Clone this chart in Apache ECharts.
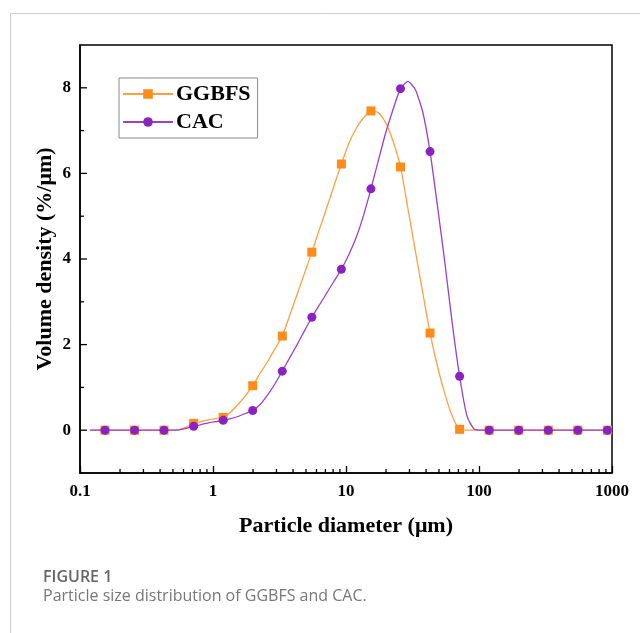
<!DOCTYPE html>
<html>
<head>
<meta charset="utf-8">
<style>
  html, body { margin: 0; padding: 0; background: #fff; }
  #chart { width: 640px; height: 633px; }
</style>
<script src="https://cdn.jsdelivr.net/npm/echarts@6/dist/echarts.min.js"></script>
</head>
<body>
<div id="chart"></div>
<script>
// Particle diameters (µm) of the size classes, logarithmically spaced
const sizes = [
  0.119, 0.135, 0.154, 0.175, 0.199, 0.226, 0.257, 0.292, 0.332, 0.377,
  0.428, 0.487, 0.553, 0.629, 0.715, 0.812, 0.923, 1.049, 1.192, 1.355,
  1.540, 1.750, 1.989, 2.261, 2.569, 2.920, 3.318, 3.771, 4.285, 4.870,
  5.535, 6.290, 7.148, 8.124, 9.233, 10.49, 11.92, 13.55, 15.40, 17.50,
  19.89, 22.61, 25.69, 29.20, 33.18, 37.71, 42.85, 48.70, 55.35, 62.90,
  71.48, 81.24, 92.33, 104.9, 119.2, 135.5, 154.0, 175.0, 198.9, 226.1,
  256.9, 292.0, 331.8, 377.1, 428.5, 487.0, 553.5, 629.0, 714.8, 812.4,
  923.3
];

// Volume density (%/µm) per size class
const ggbfs = [
  0, 0, 0, 0, 0, 0, 0, 0, 0, 0,
  0, 0, 0.01, 0.07, 0.16, 0.20, 0.24, 0.27, 0.30, 0.42,
  0.60, 0.80, 1.04, 1.33, 1.60, 1.90, 2.20, 2.68, 3.17, 3.66,
  4.16, 4.68, 5.19, 5.71, 6.22, 6.70, 7.05, 7.30, 7.46, 7.42,
  7.18, 6.75, 6.15, 5.18, 4.20, 3.22, 2.27, 1.50, 0.85, 0.33,
  0.02, 0, 0, 0, 0, 0, 0, 0, 0, 0,
  0, 0, 0, 0, 0, 0, 0, 0, 0, 0,
  0
];
const cac = [
  0, 0, 0, 0, 0, 0, 0, 0, 0, 0,
  0, 0, 0.01, 0.04, 0.09, 0.13, 0.17, 0.20, 0.23, 0.27,
  0.32, 0.39, 0.46, 0.60, 0.82, 1.08, 1.38, 1.69, 2.00, 2.32,
  2.64, 2.92, 3.20, 3.48, 3.76, 4.10, 4.50, 5.02, 5.64, 6.30,
  6.95, 7.50, 7.98, 8.15, 7.96, 7.44, 6.51, 5.24, 3.92, 2.50,
  1.26, 0.33, 0.02, 0, 0, 0, 0, 0, 0, 0,
  0, 0, 0, 0, 0, 0, 0, 0, 0, 0,
  0
];

// Size classes that carry a symbol on the curves
const markerSizes = [0.154, 0.257, 0.428, 0.715, 1.192, 1.989, 3.318, 5.535, 9.233,
  15.40, 25.69, 42.85, 71.48, 119.2, 198.9, 331.8, 553.5, 923.3];

// Axis ticks and labels
const xTickLabels = ['0.1', '1', '10', '100', '1000'];
const xMinorTicks = [0.2, 0.3, 0.4, 0.5, 0.6, 0.7, 0.8, 0.9,
  2, 3, 4, 5, 6, 7, 8, 9, 20, 30, 40, 50, 60, 70, 80, 90,
  200, 300, 400, 500, 600, 700, 800, 900];
const yTickLabels = ['0', '2', '4', '6', '8'];
const yMajorTicks = [0, 2, 4, 6, 8];
const yMinorTicks = [1, 3, 5, 7];

const serif = "'Liberation Serif', 'Times New Roman', serif";
const ORANGE = '#FF8C1A';
const PURPLE = '#8A22C2';

function curve(values) {
  return sizes.map((d, i) => {
    const item = { value: [d, values[i]] };
    if (markerSizes.indexOf(d) < 0) item.symbol = 'none';
    return item;
  });
}

// Short inward tick strokes drawn through the axis scales
function tickSeries(data, horizontal, len) {
  return {
    type: 'custom',
    silent: true,
    clip: false,
    z: 5,
    data: data,
    renderItem: function (params, api) {
      const p = api.coord([api.value(0), api.value(1)]);
      const shape = horizontal
        ? { x1: p[0], y1: p[1], x2: p[0] + len, y2: p[1] }
        : { x1: p[0], y1: p[1], x2: p[0], y2: p[1] - len };
      return { type: 'line', shape: shape, style: { stroke: '#000', lineWidth: 1.3 } };
    }
  };
}

const chart = echarts.init(document.getElementById('chart'), null, { renderer: 'canvas' });

chart.setOption({
  backgroundColor: '#fff',
  animation: false,
  grid: {
    left: 80, right: 28, top: 45, bottom: 160,
    show: true, borderColor: '#000', borderWidth: 1.5, backgroundColor: 'transparent'
  },
  legend: {
    data: ['GGBFS', 'CAC'],
    orient: 'vertical',
    left: 119, top: 78,
    padding: [5, 7, 5, 3],
    itemGap: 6,
    itemWidth: 50,
    itemHeight: 12,
    borderColor: '#8a8a8a',
    borderWidth: 1,
    textStyle: { fontFamily: serif, fontWeight: 'bold', fontSize: 22, color: '#000', padding: [0, 0, 0, -2] }
  },
  xAxis: {
    type: 'log',
    logBase: 10,
    min: 0.1, max: 1000,
    name: 'Particle diameter (μm)',
    nameLocation: 'middle',
    nameGap: 42,
    nameTextStyle: { fontFamily: serif, fontWeight: 'bold', fontSize: 22, color: '#000' },
    axisLine: { onZero: false, lineStyle: { color: '#000', width: 1.5 } },
    axisTick: { show: true, inside: true, length: 7, lineStyle: { color: '#000', width: 1.3 } },
    minorTick: { show: false },
    splitLine: { show: false },
    axisLabel: {
      margin: 10,
      fontFamily: serif, fontWeight: 'bold', fontSize: 17, color: '#000',
      formatter: function (v) {
        const e = Math.round(Math.log10(v));
        return xTickLabels[e + 1] !== undefined ? xTickLabels[e + 1] : '';
      }
    }
  },
  yAxis: {
    type: 'value',
    min: -1, max: 9, interval: 1,
    name: 'Volume density (%/μm)',
    nameLocation: 'middle',
    nameGap: 24,
    nameMoveOverlap: false,
    nameTextStyle: { fontFamily: serif, fontWeight: 'bold', fontSize: 22, color: '#000' },
    axisLine: { show: true, onZero: false, lineStyle: { color: '#000', width: 1.5 } },
    axisTick: { show: false },
    splitLine: { show: false },
    axisLabel: {
      margin: 9,
      fontFamily: serif, fontWeight: 'bold', fontSize: 17, color: '#000',
      formatter: function (v) {
        const i = yMajorTicks.indexOf(v);
        return i >= 0 ? yTickLabels[i] : '';
      }
    }
  },
  series: [
    {
      name: 'GGBFS',
      type: 'line',
      data: curve(ggbfs),
      symbol: 'rect',
      symbolSize: 9,
      smooth: 0.2,
      showAllSymbol: true,
      lineStyle: { color: '#FFA040', width: 1.3 },
      itemStyle: { color: ORANGE },
      z: 3
    },
    {
      name: 'CAC',
      type: 'line',
      data: curve(cac),
      symbol: 'circle',
      symbolSize: 9,
      smooth: 0.2,
      showAllSymbol: true,
      lineStyle: { color: '#9B3FD0', width: 1.3 },
      itemStyle: { color: PURPLE },
      z: 4
    },
    tickSeries(xMinorTicks.map(v => [v, -1]), false, 4),
    tickSeries(yMajorTicks.map(v => [0.1, v]), true, 7),
    tickSeries(yMinorTicks.map(v => [0.1, v]), true, 4)
  ],
  graphic: [
    { type: 'line', shape: { x1: 10.5, y1: 13.5, x2: 640, y2: 13.5 }, style: { stroke: '#cfcfcf', lineWidth: 1 } },
    { type: 'line', shape: { x1: 10.5, y1: 13.5, x2: 10.5, y2: 633 }, style: { stroke: '#cfcfcf', lineWidth: 1 } },
    {
      type: 'text', left: 43, top: 569,
      style: { text: 'FIGURE 1', font: "600 16px 'Open Sans', 'Noto Sans', sans-serif", fill: '#666' }
    },
    {
      type: 'text', left: 43, top: 588,
      style: { text: 'Particle size distribution of GGBFS and CAC.', font: "16px 'Open Sans', 'Noto Sans', sans-serif", fill: '#777' }
    }
  ]
});
</script>
</body>
</html>
